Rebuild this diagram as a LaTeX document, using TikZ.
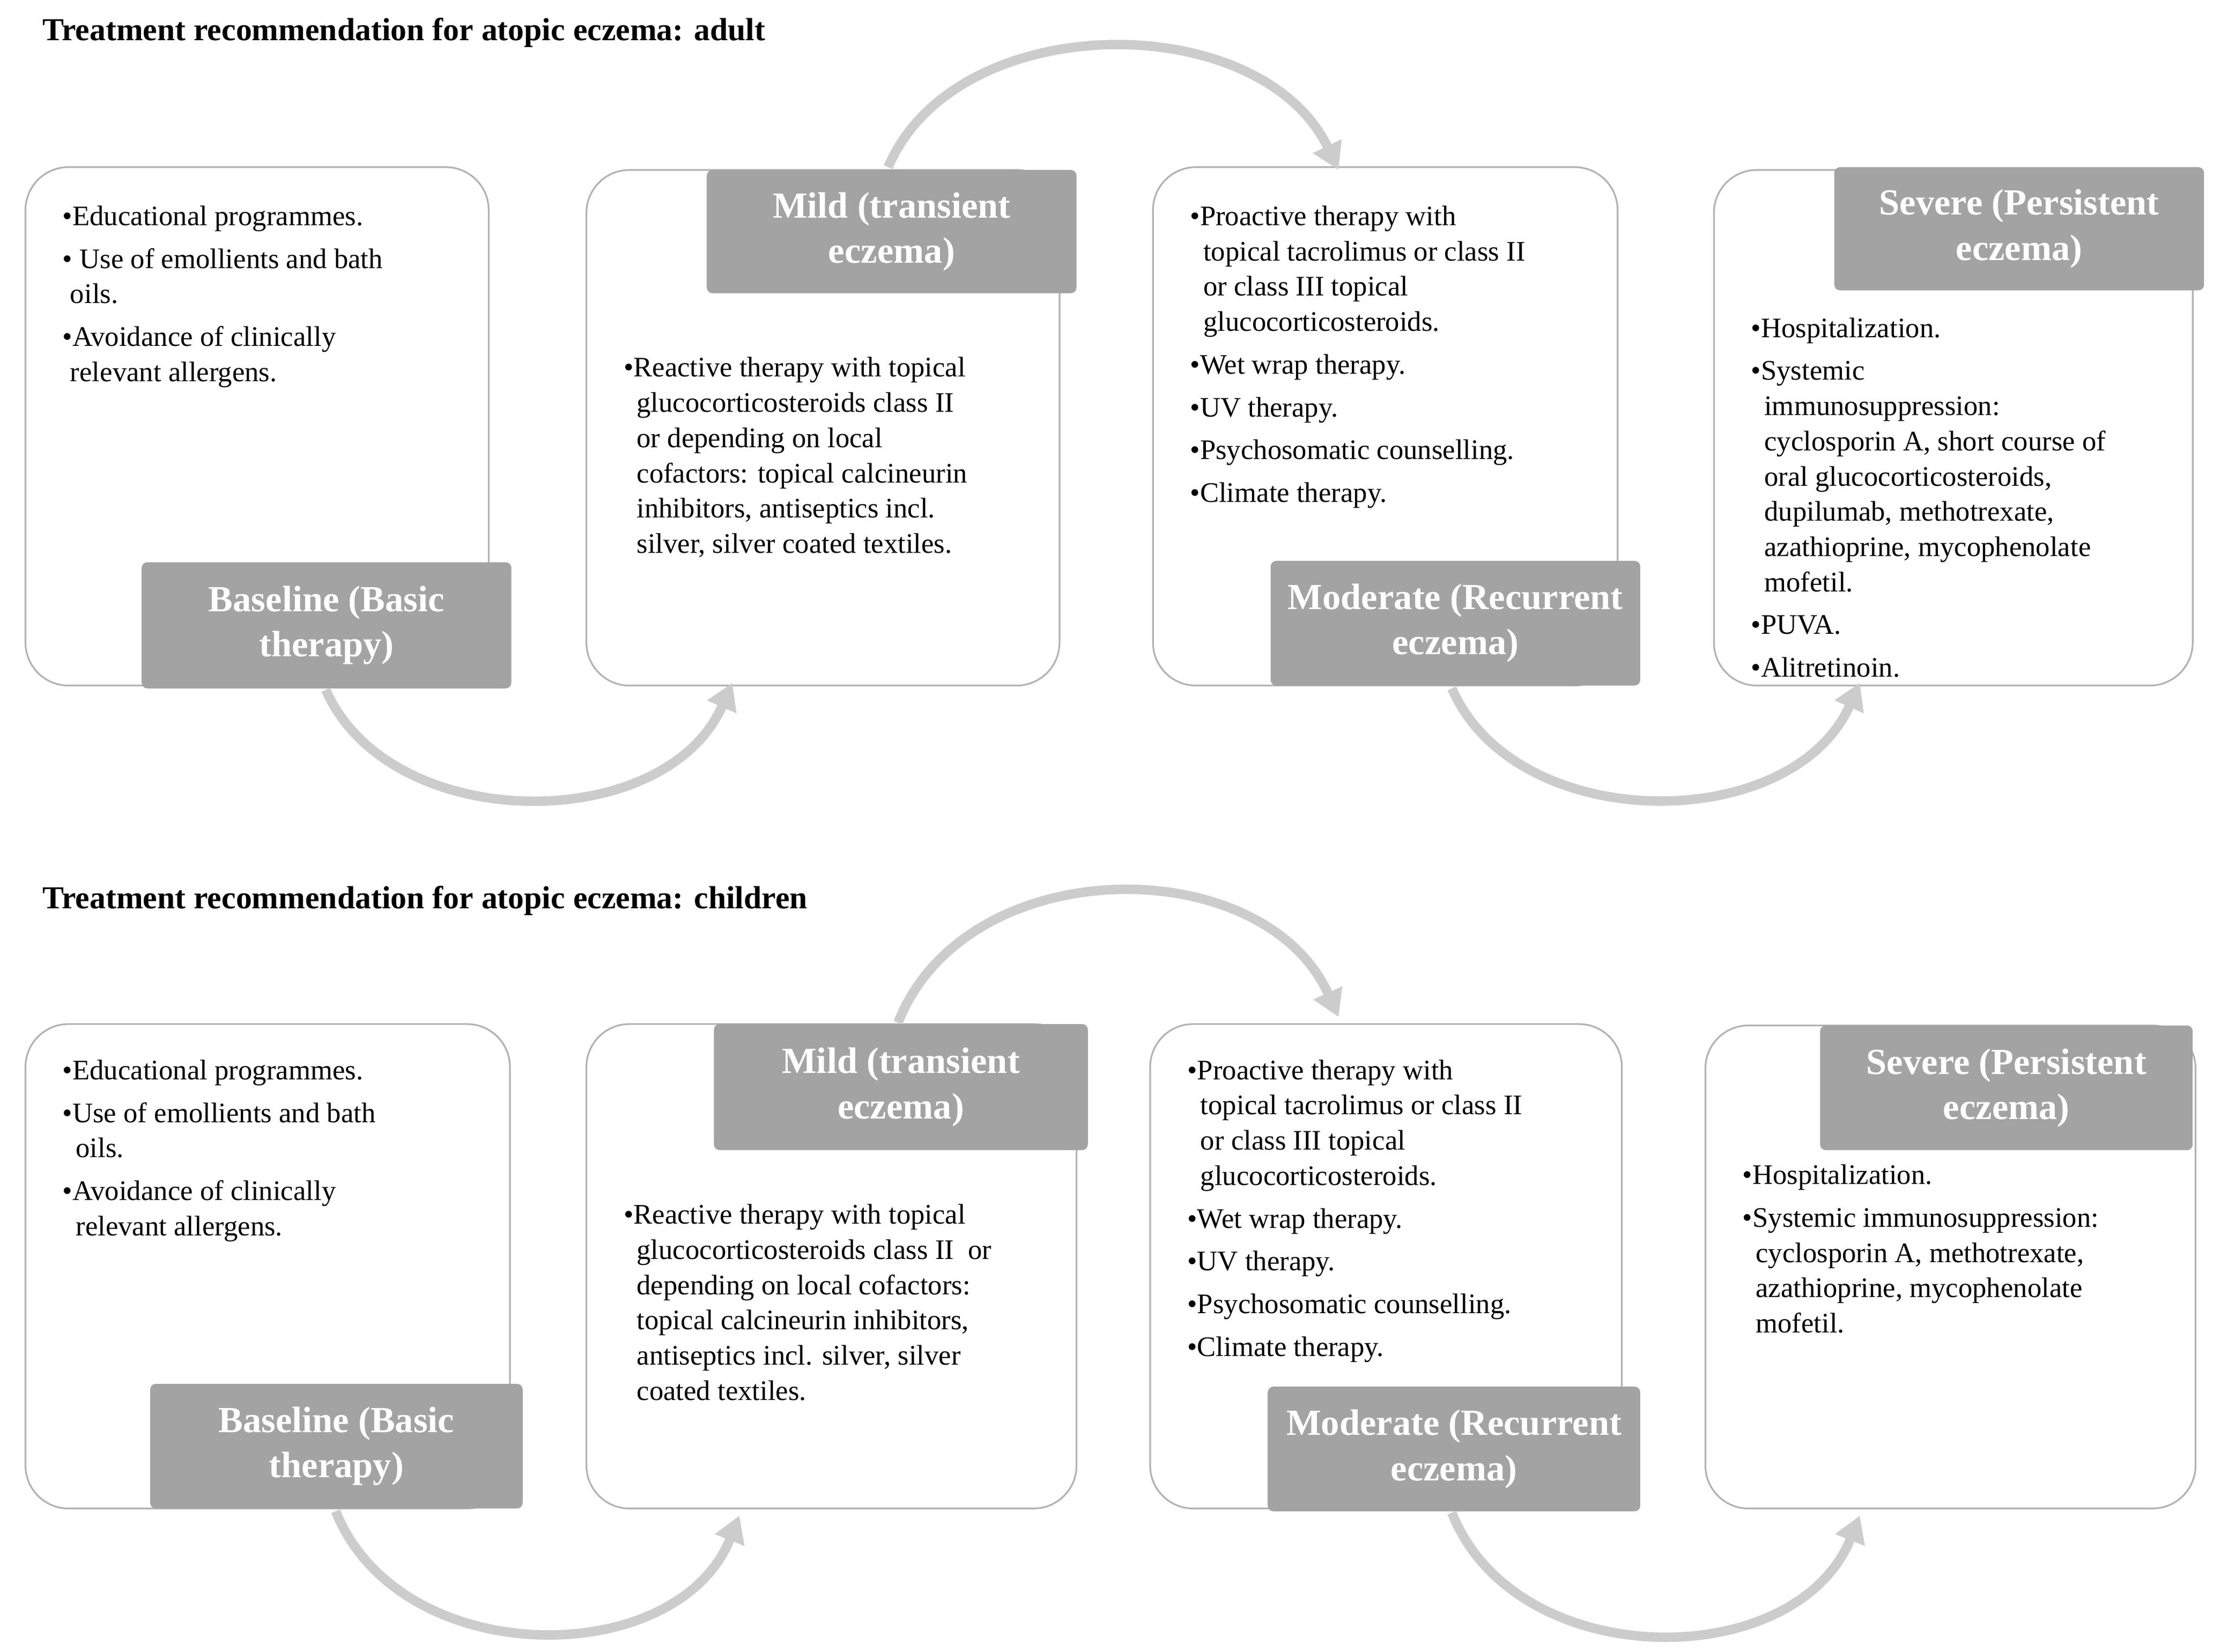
\documentclass[tikz,border=0pt]{standalone}
\usepackage{fontspec}
\setmainfont{Liberation Serif}
\usetikzlibrary{arrows.meta}
\def\U{0.02642cm}
\tikzset{
 box/.style={draw=black!30,line width=0.9pt,rounded corners=0.8cm,inner sep=0pt},
 lab/.style={fill=black!36,rounded corners=3pt,text=white,font=\fontsize{19.5}{24}\selectfont\bfseries,align=center,inner sep=0pt},
 txt/.style={anchor=north west,align=left,inner sep=0pt,font=\fontsize{15}{18.7}\selectfont},
 ttl/.style={anchor=west,inner sep=0pt,font=\fontsize{17}{20}\selectfont\bfseries},
 arc/.style={draw=black!20,line width=5pt,-{Triangle[length=14pt,width=16pt]}}
}
\newcommand\mkbox[5]{\node[box,minimum width={(#4-#2)*\U},minimum height={(#5-#3)*\U}] (#1) at ({(#2+#4)/2},{-(#3+#5)/2}) {};}
\newcommand\mklab[6]{\node[lab,minimum width={(#4-#2)*\U},minimum height={(#5-#3)*\U}] (#1) at ({(#2+#4)/2},{-(#3+#5)/2}) {#6};}
\newcommand\bu{\textbullet}
\begin{document}
\begin{tikzpicture}[x=\U,y=\U]
\useasboundingbox[fill=white] (0,0) rectangle (1568,-1166);
% ===== adult =====
\node[ttl] (t1) at (30,-23) {Treatment recommendation for atopic eczema: adult};
\mkbox{a1}{18}{118}{345}{484}
\mkbox{a2}{414}{120}{748}{484}
\mkbox{a3}{814}{118}{1142}{484}
\mkbox{a4}{1210}{120}{1548}{484}
\mklab{la1}{100}{397}{361}{486}{Baseline (Basic\\therapy)}
\mklab{la2}{499}{120}{760}{207}{Mild (transient\\eczema)}
\mklab{la3}{897}{396}{1158}{484}{Moderate (Recurrent\\eczema)}
\mklab{la4}{1295}{118}{1556}{205}{Severe (Persistent\\eczema)}
\node[txt] (xa1) at (44,-145) {\bu Educational programmes.\\[4pt]
 \bu\ Use of emollients and bath\\ \hspace*{4pt}oils.\\[4pt]
 \bu Avoidance of clinically\\ \hspace*{4pt}relevant allergens.};
\node[txt] (xa2) at (440,-252) {\bu Reactive therapy with topical\\
 \hspace*{7pt}glucocorticosteroids class II\\
 \hspace*{7pt}or depending on local\\
 \hspace*{7pt}cofactors: topical calcineurin\\
 \hspace*{7pt}inhibitors, antiseptics incl.\\
 \hspace*{7pt}silver, silver coated textiles.};
\node[txt] (xa3) at (840,-145) {\bu Proactive therapy with\\
 \hspace*{7pt}topical tacrolimus or class II\\
 \hspace*{7pt}or class III topical\\
 \hspace*{7pt}glucocorticosteroids.\\[4pt]
 \bu Wet wrap therapy.\\[4pt]
 \bu UV therapy.\\[4pt]
 \bu Psychosomatic counselling.\\[4pt]
 \bu Climate therapy.};
\node[txt] (xa4) at (1236,-224) {\bu Hospitalization.\\[4pt]
 \bu Systemic\\
 \hspace*{7pt}immunosuppression:\\
 \hspace*{7pt}cyclosporin A, short course of\\
 \hspace*{7pt}oral glucocorticosteroids,\\
 \hspace*{7pt}dupilumab, methotrexate,\\
 \hspace*{7pt}azathioprine, mycophenolate\\
 \hspace*{7pt}mofetil.\\[4pt]
 \bu PUVA.\\[4pt]
 \bu Alitretinoin.};
\coordinate (p1) at (230,-487); \coordinate (q1) at (517,-482);
\coordinate (p2) at (627,-118); \coordinate (q2) at (945,-120);
\coordinate (p3) at (1025,-486); \coordinate (q3) at (1313,-482);
\draw[arc] (p1) .. controls (275,-590) and (470,-590) .. (q1);
\draw[arc] (p2) .. controls (675,-5) and (890,-5) .. (q2);
\draw[arc] (p3) .. controls (1070,-590) and (1265,-590) .. (q3);
% ===== children =====
\node[ttl] (t2) at (30,-636) {Treatment recommendation for atopic eczema: children};
\mkbox{c1}{18}{723}{360}{1065}
\mkbox{c2}{414}{723}{760}{1065}
\mkbox{c3}{812}{723}{1145}{1065}
\mkbox{c4}{1204}{724}{1550}{1065}
\mklab{lc1}{106}{977}{369}{1065}{Baseline (Basic\\therapy)}
\mklab{lc2}{504}{723}{768}{812}{Mild (transient\\eczema)}
\mklab{lc3}{895}{979}{1158}{1067}{Moderate (Recurrent\\eczema)}
\mklab{lc4}{1285}{724}{1548}{812}{Severe (Persistent\\eczema)}
\node[txt] (xc1) at (44,-748) {\bu Educational programmes.\\[4pt]
 \bu Use of emollients and bath\\ \hspace*{7pt}oils.\\[4pt]
 \bu Avoidance of clinically\\ \hspace*{7pt}relevant allergens.};
\node[txt] (xc2) at (440,-850) {\bu Reactive therapy with topical\\
 \hspace*{7pt}glucocorticosteroids class II\ \ or\\
 \hspace*{7pt}depending on local cofactors:\\
 \hspace*{7pt}topical calcineurin inhibitors,\\
 \hspace*{7pt}antiseptics incl. silver, silver\\
 \hspace*{7pt}coated textiles.};
\node[txt] (xc3) at (838,-748) {\bu Proactive therapy with\\
 \hspace*{7pt}topical tacrolimus or class II\\
 \hspace*{7pt}or class III topical\\
 \hspace*{7pt}glucocorticosteroids.\\[4pt]
 \bu Wet wrap therapy.\\[4pt]
 \bu UV therapy.\\[4pt]
 \bu Psychosomatic counselling.\\[4pt]
 \bu Climate therapy.};
\node[txt] (xc4) at (1230,-822) {\bu Hospitalization.\\[4pt]
 \bu Systemic immunosuppression:\\
 \hspace*{7pt}cyclosporin A, methotrexate,\\
 \hspace*{7pt}azathioprine, mycophenolate\\
 \hspace*{7pt}mofetil.};
\coordinate (r1) at (237,-1067); \coordinate (s1) at (522,-1070);
\coordinate (r2) at (634,-722); \coordinate (s2) at (945,-718);
\coordinate (r3) at (1025,-1068); \coordinate (s3) at (1313,-1070);
\draw[arc] (r1) .. controls (282,-1180) and (478,-1180) .. (s1);
\draw[arc] (r2) .. controls (682,-600) and (892,-600) .. (s2);
\draw[arc] (r3) .. controls (1070,-1182) and (1268,-1182) .. (s3);
\end{tikzpicture}
\end{document}
